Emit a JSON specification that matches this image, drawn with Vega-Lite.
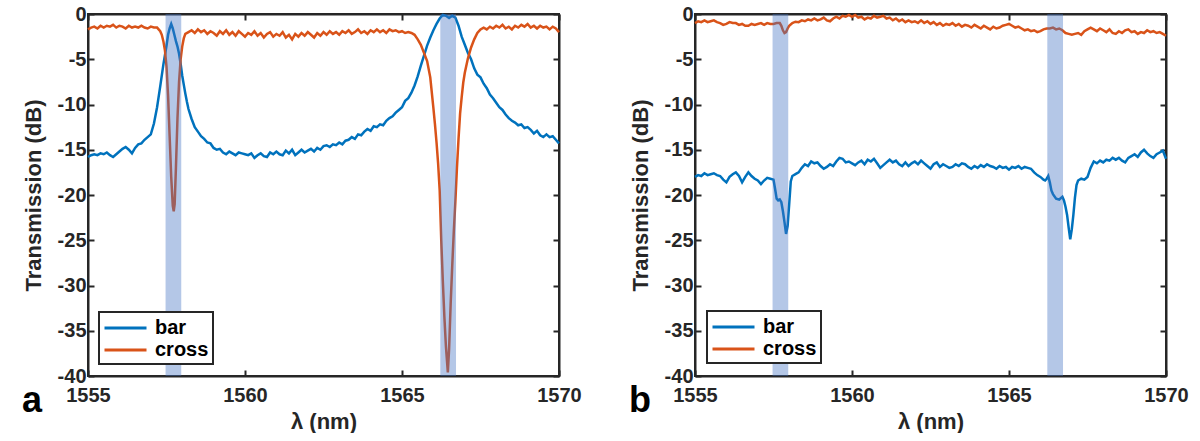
{
  "$schema": "https://vega.github.io/schema/vega-lite/v6.json",
  "background": "white",
  "padding": {"left": 21, "top": 3, "right": 0, "bottom": 0},
  "datasets": {
    "a": [
      {"series":"bar","lambda":1555.0,"T":-15.8},{"series":"bar","lambda":1555.1,"T":-15.6},{"series":"bar","lambda":1555.2,"T":-15.5},{"series":"bar","lambda":1555.3,"T":-15.6},{"series":"bar","lambda":1555.4,"T":-15.4},{"series":"bar","lambda":1555.5,"T":-15.5},{"series":"bar","lambda":1555.6,"T":-15.3},{"series":"bar","lambda":1555.7,"T":-15.6},{"series":"bar","lambda":1555.8,"T":-15.8},{"series":"bar","lambda":1555.9,"T":-15.5},
      {"series":"bar","lambda":1556.0,"T":-15.2},{"series":"bar","lambda":1556.1,"T":-14.9},{"series":"bar","lambda":1556.2,"T":-14.7},{"series":"bar","lambda":1556.3,"T":-15.0},{"series":"bar","lambda":1556.4,"T":-15.4},{"series":"bar","lambda":1556.5,"T":-14.8},{"series":"bar","lambda":1556.6,"T":-14.4},{"series":"bar","lambda":1556.7,"T":-14.3},{"series":"bar","lambda":1556.8,"T":-13.9},{"series":"bar","lambda":1556.9,"T":-13.6},
      {"series":"bar","lambda":1557.0,"T":-13.3},{"series":"bar","lambda":1557.1,"T":-12.1},{"series":"bar","lambda":1557.2,"T":-10.3},{"series":"bar","lambda":1557.3,"T":-8.0},{"series":"bar","lambda":1557.4,"T":-5.6},{"series":"bar","lambda":1557.5,"T":-3.5},{"series":"bar","lambda":1557.55,"T":-2.3},{"series":"bar","lambda":1557.6,"T":-1.6},{"series":"bar","lambda":1557.65,"T":-1.1},{"series":"bar","lambda":1557.7,"T":-1.6},
      {"series":"bar","lambda":1557.75,"T":-2.3},{"series":"bar","lambda":1557.8,"T":-3.0},{"series":"bar","lambda":1557.85,"T":-3.6},{"series":"bar","lambda":1557.9,"T":-4.4},{"series":"bar","lambda":1557.95,"T":-5.5},{"series":"bar","lambda":1558.0,"T":-6.8},{"series":"bar","lambda":1558.05,"T":-7.8},{"series":"bar","lambda":1558.1,"T":-8.8},{"series":"bar","lambda":1558.15,"T":-9.7},{"series":"bar","lambda":1558.2,"T":-10.5},
      {"series":"bar","lambda":1558.3,"T":-11.6},{"series":"bar","lambda":1558.4,"T":-12.5},{"series":"bar","lambda":1558.5,"T":-13.0},{"series":"bar","lambda":1558.6,"T":-13.5},{"series":"bar","lambda":1558.7,"T":-13.8},{"series":"bar","lambda":1558.8,"T":-14.2},{"series":"bar","lambda":1558.9,"T":-14.3},{"series":"bar","lambda":1559.0,"T":-14.8},{"series":"bar","lambda":1559.1,"T":-15.0},{"series":"bar","lambda":1559.2,"T":-14.9},
      {"series":"bar","lambda":1559.3,"T":-15.3},{"series":"bar","lambda":1559.4,"T":-15.5},{"series":"bar","lambda":1559.5,"T":-15.2},{"series":"bar","lambda":1559.6,"T":-15.4},{"series":"bar","lambda":1559.7,"T":-15.6},{"series":"bar","lambda":1559.8,"T":-15.3},{"series":"bar","lambda":1559.9,"T":-15.4},{"series":"bar","lambda":1560.0,"T":-15.5},{"series":"bar","lambda":1560.1,"T":-15.6},{"series":"bar","lambda":1560.2,"T":-15.4},
      {"series":"bar","lambda":1560.3,"T":-15.9},{"series":"bar","lambda":1560.4,"T":-15.6},{"series":"bar","lambda":1560.5,"T":-15.4},{"series":"bar","lambda":1560.6,"T":-15.7},{"series":"bar","lambda":1560.7,"T":-15.8},{"series":"bar","lambda":1560.8,"T":-15.3},{"series":"bar","lambda":1560.9,"T":-15.5},{"series":"bar","lambda":1561.0,"T":-15.2},{"series":"bar","lambda":1561.1,"T":-15.5},{"series":"bar","lambda":1561.2,"T":-15.6},
      {"series":"bar","lambda":1561.3,"T":-15.1},{"series":"bar","lambda":1561.4,"T":-15.4},{"series":"bar","lambda":1561.5,"T":-15.0},{"series":"bar","lambda":1561.6,"T":-15.6},{"series":"bar","lambda":1561.7,"T":-15.3},{"series":"bar","lambda":1561.8,"T":-15.0},{"series":"bar","lambda":1561.9,"T":-15.3},{"series":"bar","lambda":1562.0,"T":-15.1},{"series":"bar","lambda":1562.1,"T":-14.9},{"series":"bar","lambda":1562.2,"T":-15.2},
      {"series":"bar","lambda":1562.3,"T":-14.8},{"series":"bar","lambda":1562.4,"T":-15.0},{"series":"bar","lambda":1562.5,"T":-14.6},{"series":"bar","lambda":1562.6,"T":-14.5},{"series":"bar","lambda":1562.7,"T":-14.7},{"series":"bar","lambda":1562.8,"T":-14.4},{"series":"bar","lambda":1562.9,"T":-14.5},{"series":"bar","lambda":1563.0,"T":-14.2},{"series":"bar","lambda":1563.1,"T":-14.4},{"series":"bar","lambda":1563.2,"T":-14.0},
      {"series":"bar","lambda":1563.3,"T":-13.9},{"series":"bar","lambda":1563.4,"T":-13.6},{"series":"bar","lambda":1563.5,"T":-13.8},{"series":"bar","lambda":1563.6,"T":-13.3},{"series":"bar","lambda":1563.7,"T":-13.4},{"series":"bar","lambda":1563.8,"T":-13.0},{"series":"bar","lambda":1563.9,"T":-12.7},{"series":"bar","lambda":1564.0,"T":-12.9},{"series":"bar","lambda":1564.1,"T":-12.4},{"series":"bar","lambda":1564.2,"T":-12.5},
      {"series":"bar","lambda":1564.3,"T":-12.2},{"series":"bar","lambda":1564.4,"T":-12.3},{"series":"bar","lambda":1564.5,"T":-11.8},{"series":"bar","lambda":1564.6,"T":-11.5},{"series":"bar","lambda":1564.7,"T":-11.3},{"series":"bar","lambda":1564.8,"T":-10.9},{"series":"bar","lambda":1564.9,"T":-10.6},{"series":"bar","lambda":1565.0,"T":-10.3},{"series":"bar","lambda":1565.1,"T":-9.6},{"series":"bar","lambda":1565.2,"T":-9.3},
      {"series":"bar","lambda":1565.3,"T":-8.7},{"series":"bar","lambda":1565.4,"T":-7.9},{"series":"bar","lambda":1565.5,"T":-6.9},{"series":"bar","lambda":1565.6,"T":-5.7},{"series":"bar","lambda":1565.7,"T":-4.6},{"series":"bar","lambda":1565.8,"T":-3.5},{"series":"bar","lambda":1565.9,"T":-2.6},{"series":"bar","lambda":1566.0,"T":-1.8},{"series":"bar","lambda":1566.1,"T":-1.1},{"series":"bar","lambda":1566.2,"T":-0.5},
      {"series":"bar","lambda":1566.3,"T":-0.1},{"series":"bar","lambda":1566.4,"T":-0.2},{"series":"bar","lambda":1566.5,"T":-0.45},{"series":"bar","lambda":1566.6,"T":-0.2},{"series":"bar","lambda":1566.7,"T":-0.4},{"series":"bar","lambda":1566.8,"T":-1.3},{"series":"bar","lambda":1566.9,"T":-2.5},{"series":"bar","lambda":1567.0,"T":-3.4},{"series":"bar","lambda":1567.1,"T":-4.3},{"series":"bar","lambda":1567.2,"T":-5.0},
      {"series":"bar","lambda":1567.3,"T":-6.0},{"series":"bar","lambda":1567.4,"T":-6.7},{"series":"bar","lambda":1567.5,"T":-7.0},{"series":"bar","lambda":1567.6,"T":-7.7},{"series":"bar","lambda":1567.7,"T":-8.2},{"series":"bar","lambda":1567.8,"T":-8.9},{"series":"bar","lambda":1567.9,"T":-9.3},{"series":"bar","lambda":1568.0,"T":-9.8},{"series":"bar","lambda":1568.1,"T":-10.3},{"series":"bar","lambda":1568.2,"T":-10.6},
      {"series":"bar","lambda":1568.3,"T":-11.1},{"series":"bar","lambda":1568.4,"T":-11.5},{"series":"bar","lambda":1568.5,"T":-11.8},{"series":"bar","lambda":1568.6,"T":-12.0},{"series":"bar","lambda":1568.7,"T":-12.3},{"series":"bar","lambda":1568.8,"T":-12.2},{"series":"bar","lambda":1568.9,"T":-12.6},{"series":"bar","lambda":1569.0,"T":-12.5},{"series":"bar","lambda":1569.1,"T":-12.8},{"series":"bar","lambda":1569.2,"T":-13.2},
      {"series":"bar","lambda":1569.3,"T":-12.9},{"series":"bar","lambda":1569.4,"T":-13.4},{"series":"bar","lambda":1569.5,"T":-13.6},{"series":"bar","lambda":1569.6,"T":-13.3},{"series":"bar","lambda":1569.7,"T":-13.6},{"series":"bar","lambda":1569.8,"T":-13.5},{"series":"bar","lambda":1569.9,"T":-13.9},{"series":"bar","lambda":1570.0,"T":-14.3},
      {"series":"cross","lambda":1555.0,"T":-1.7},{"series":"cross","lambda":1555.1,"T":-1.5},{"series":"cross","lambda":1555.2,"T":-1.4},{"series":"cross","lambda":1555.3,"T":-1.6},{"series":"cross","lambda":1555.4,"T":-1.3},{"series":"cross","lambda":1555.5,"T":-1.5},{"series":"cross","lambda":1555.6,"T":-1.3},{"series":"cross","lambda":1555.7,"T":-1.4},{"series":"cross","lambda":1555.8,"T":-1.2},{"series":"cross","lambda":1555.9,"T":-1.5},
      {"series":"cross","lambda":1556.0,"T":-1.3},{"series":"cross","lambda":1556.1,"T":-1.4},{"series":"cross","lambda":1556.2,"T":-1.6},{"series":"cross","lambda":1556.3,"T":-1.3},{"series":"cross","lambda":1556.4,"T":-1.5},{"series":"cross","lambda":1556.5,"T":-1.4},{"series":"cross","lambda":1556.6,"T":-1.5},{"series":"cross","lambda":1556.7,"T":-1.3},{"series":"cross","lambda":1556.8,"T":-1.5},{"series":"cross","lambda":1556.9,"T":-1.6},
      {"series":"cross","lambda":1557.0,"T":-1.4},{"series":"cross","lambda":1557.1,"T":-1.5},{"series":"cross","lambda":1557.2,"T":-1.5},{"series":"cross","lambda":1557.3,"T":-1.9},{"series":"cross","lambda":1557.35,"T":-2.3},{"series":"cross","lambda":1557.4,"T":-3.0},{"series":"cross","lambda":1557.45,"T":-4.0},{"series":"cross","lambda":1557.5,"T":-5.8},{"series":"cross","lambda":1557.55,"T":-9.0},{"series":"cross","lambda":1557.6,"T":-13.5},
      {"series":"cross","lambda":1557.65,"T":-18.0},{"series":"cross","lambda":1557.7,"T":-21.2},{"series":"cross","lambda":1557.73,"T":-21.8},{"series":"cross","lambda":1557.76,"T":-21.0},{"series":"cross","lambda":1557.8,"T":-17.0},{"series":"cross","lambda":1557.85,"T":-11.5},{"series":"cross","lambda":1557.9,"T":-7.5},{"series":"cross","lambda":1557.95,"T":-5.0},{"series":"cross","lambda":1558.0,"T":-3.6},{"series":"cross","lambda":1558.05,"T":-2.7},
      {"series":"cross","lambda":1558.1,"T":-2.2},{"series":"cross","lambda":1558.2,"T":-2.0},{"series":"cross","lambda":1558.3,"T":-1.8},{"series":"cross","lambda":1558.4,"T":-2.1},{"series":"cross","lambda":1558.5,"T":-1.7},{"series":"cross","lambda":1558.6,"T":-2.0},{"series":"cross","lambda":1558.7,"T":-1.8},{"series":"cross","lambda":1558.8,"T":-2.2},{"series":"cross","lambda":1558.9,"T":-1.9},{"series":"cross","lambda":1559.0,"T":-2.1},
      {"series":"cross","lambda":1559.1,"T":-2.4},{"series":"cross","lambda":1559.2,"T":-1.9},{"series":"cross","lambda":1559.3,"T":-2.2},{"series":"cross","lambda":1559.4,"T":-1.8},{"series":"cross","lambda":1559.5,"T":-2.3},{"series":"cross","lambda":1559.6,"T":-2.0},{"series":"cross","lambda":1559.7,"T":-2.4},{"series":"cross","lambda":1559.8,"T":-1.9},{"series":"cross","lambda":1559.9,"T":-2.2},{"series":"cross","lambda":1560.0,"T":-2.5},
      {"series":"cross","lambda":1560.1,"T":-2.1},{"series":"cross","lambda":1560.2,"T":-2.3},{"series":"cross","lambda":1560.3,"T":-1.9},{"series":"cross","lambda":1560.4,"T":-2.4},{"series":"cross","lambda":1560.5,"T":-2.1},{"series":"cross","lambda":1560.6,"T":-2.6},{"series":"cross","lambda":1560.7,"T":-2.2},{"series":"cross","lambda":1560.8,"T":-2.0},{"series":"cross","lambda":1560.9,"T":-2.5},{"series":"cross","lambda":1561.0,"T":-2.2},
      {"series":"cross","lambda":1561.1,"T":-2.4},{"series":"cross","lambda":1561.2,"T":-2.0},{"series":"cross","lambda":1561.3,"T":-2.6},{"series":"cross","lambda":1561.4,"T":-2.3},{"series":"cross","lambda":1561.5,"T":-2.8},{"series":"cross","lambda":1561.6,"T":-2.2},{"series":"cross","lambda":1561.7,"T":-2.5},{"series":"cross","lambda":1561.8,"T":-2.1},{"series":"cross","lambda":1561.9,"T":-2.4},{"series":"cross","lambda":1562.0,"T":-2.0},
      {"series":"cross","lambda":1562.1,"T":-2.3},{"series":"cross","lambda":1562.2,"T":-2.6},{"series":"cross","lambda":1562.3,"T":-2.1},{"series":"cross","lambda":1562.4,"T":-2.4},{"series":"cross","lambda":1562.5,"T":-2.0},{"series":"cross","lambda":1562.6,"T":-2.3},{"series":"cross","lambda":1562.7,"T":-1.9},{"series":"cross","lambda":1562.8,"T":-2.2},{"series":"cross","lambda":1562.9,"T":-2.0},{"series":"cross","lambda":1563.0,"T":-2.3},
      {"series":"cross","lambda":1563.1,"T":-1.9},{"series":"cross","lambda":1563.2,"T":-2.1},{"series":"cross","lambda":1563.3,"T":-1.8},{"series":"cross","lambda":1563.4,"T":-2.2},{"series":"cross","lambda":1563.5,"T":-2.0},{"series":"cross","lambda":1563.6,"T":-1.7},{"series":"cross","lambda":1563.7,"T":-2.1},{"series":"cross","lambda":1563.8,"T":-1.9},{"series":"cross","lambda":1563.9,"T":-2.2},{"series":"cross","lambda":1564.0,"T":-1.8},
      {"series":"cross","lambda":1564.1,"T":-2.0},{"series":"cross","lambda":1564.2,"T":-1.7},{"series":"cross","lambda":1564.3,"T":-2.0},{"series":"cross","lambda":1564.4,"T":-1.8},{"series":"cross","lambda":1564.5,"T":-2.1},{"series":"cross","lambda":1564.6,"T":-1.7},{"series":"cross","lambda":1564.7,"T":-1.9},{"series":"cross","lambda":1564.8,"T":-1.8},{"series":"cross","lambda":1564.9,"T":-2.0},{"series":"cross","lambda":1565.0,"T":-1.9},
      {"series":"cross","lambda":1565.1,"T":-2.1},{"series":"cross","lambda":1565.2,"T":-2.0},{"series":"cross","lambda":1565.3,"T":-2.1},{"series":"cross","lambda":1565.4,"T":-2.3},{"series":"cross","lambda":1565.5,"T":-2.8},{"series":"cross","lambda":1565.6,"T":-3.4},{"series":"cross","lambda":1565.7,"T":-4.3},{"series":"cross","lambda":1565.8,"T":-5.2},{"series":"cross","lambda":1565.9,"T":-7.0},{"series":"cross","lambda":1566.0,"T":-10.4},
      {"series":"cross","lambda":1566.05,"T":-12.2},{"series":"cross","lambda":1566.1,"T":-14.2},{"series":"cross","lambda":1566.15,"T":-16.5},{"series":"cross","lambda":1566.2,"T":-19.5},{"series":"cross","lambda":1566.25,"T":-25.0},{"series":"cross","lambda":1566.3,"T":-29.5},{"series":"cross","lambda":1566.35,"T":-33.5},{"series":"cross","lambda":1566.4,"T":-36.8},{"series":"cross","lambda":1566.46,"T":-39.6},{"series":"cross","lambda":1566.5,"T":-37.0},
      {"series":"cross","lambda":1566.55,"T":-32.0},{"series":"cross","lambda":1566.6,"T":-27.8},{"series":"cross","lambda":1566.65,"T":-24.0},{"series":"cross","lambda":1566.7,"T":-20.7},{"series":"cross","lambda":1566.75,"T":-17.0},{"series":"cross","lambda":1566.8,"T":-13.8},{"series":"cross","lambda":1566.85,"T":-11.0},{"series":"cross","lambda":1566.9,"T":-9.2},{"series":"cross","lambda":1566.95,"T":-7.6},{"series":"cross","lambda":1567.0,"T":-6.5},
      {"series":"cross","lambda":1567.1,"T":-4.9},{"series":"cross","lambda":1567.2,"T":-3.7},{"series":"cross","lambda":1567.3,"T":-2.8},{"series":"cross","lambda":1567.4,"T":-2.1},{"series":"cross","lambda":1567.5,"T":-1.7},{"series":"cross","lambda":1567.6,"T":-1.5},{"series":"cross","lambda":1567.7,"T":-1.7},{"series":"cross","lambda":1567.8,"T":-1.4},{"series":"cross","lambda":1567.9,"T":-1.6},{"series":"cross","lambda":1568.0,"T":-1.3},
      {"series":"cross","lambda":1568.1,"T":-1.5},{"series":"cross","lambda":1568.2,"T":-1.2},{"series":"cross","lambda":1568.3,"T":-1.6},{"series":"cross","lambda":1568.4,"T":-1.4},{"series":"cross","lambda":1568.5,"T":-1.7},{"series":"cross","lambda":1568.6,"T":-1.3},{"series":"cross","lambda":1568.7,"T":-1.5},{"series":"cross","lambda":1568.8,"T":-1.2},{"series":"cross","lambda":1568.9,"T":-1.4},{"series":"cross","lambda":1569.0,"T":-1.1},
      {"series":"cross","lambda":1569.1,"T":-1.5},{"series":"cross","lambda":1569.2,"T":-1.3},{"series":"cross","lambda":1569.3,"T":-1.6},{"series":"cross","lambda":1569.4,"T":-1.3},{"series":"cross","lambda":1569.5,"T":-1.5},{"series":"cross","lambda":1569.6,"T":-1.4},{"series":"cross","lambda":1569.7,"T":-1.7},{"series":"cross","lambda":1569.8,"T":-1.4},{"series":"cross","lambda":1569.9,"T":-1.6},{"series":"cross","lambda":1570.0,"T":-2.0}
    ],
    "b": [
      {"series":"bar","lambda":1555.0,"T":-18.0},{"series":"bar","lambda":1555.1,"T":-17.8},{"series":"bar","lambda":1555.2,"T":-17.9},{"series":"bar","lambda":1555.3,"T":-17.6},{"series":"bar","lambda":1555.4,"T":-17.8},{"series":"bar","lambda":1555.5,"T":-17.7},{"series":"bar","lambda":1555.6,"T":-17.6},{"series":"bar","lambda":1555.7,"T":-17.8},{"series":"bar","lambda":1555.8,"T":-17.9},{"series":"bar","lambda":1555.9,"T":-18.3},
      {"series":"bar","lambda":1556.0,"T":-18.6},{"series":"bar","lambda":1556.1,"T":-18.0},{"series":"bar","lambda":1556.2,"T":-17.7},{"series":"bar","lambda":1556.3,"T":-17.5},{"series":"bar","lambda":1556.4,"T":-17.9},{"series":"bar","lambda":1556.5,"T":-18.6},{"series":"bar","lambda":1556.6,"T":-18.0},{"series":"bar","lambda":1556.7,"T":-17.5},{"series":"bar","lambda":1556.8,"T":-17.9},{"series":"bar","lambda":1556.9,"T":-18.2},
      {"series":"bar","lambda":1557.0,"T":-18.4},{"series":"bar","lambda":1557.1,"T":-18.8},{"series":"bar","lambda":1557.2,"T":-18.4},{"series":"bar","lambda":1557.3,"T":-18.1},{"series":"bar","lambda":1557.4,"T":-18.2},{"series":"bar","lambda":1557.5,"T":-18.3},{"series":"bar","lambda":1557.55,"T":-19.3},{"series":"bar","lambda":1557.6,"T":-20.4},{"series":"bar","lambda":1557.65,"T":-20.6},{"series":"bar","lambda":1557.7,"T":-20.5},
      {"series":"bar","lambda":1557.75,"T":-20.8},{"series":"bar","lambda":1557.8,"T":-21.8},{"series":"bar","lambda":1557.85,"T":-23.0},{"series":"bar","lambda":1557.9,"T":-24.3},{"series":"bar","lambda":1557.95,"T":-23.4},{"series":"bar","lambda":1558.0,"T":-21.0},{"series":"bar","lambda":1558.05,"T":-18.5},{"series":"bar","lambda":1558.1,"T":-17.9},{"series":"bar","lambda":1558.2,"T":-17.7},{"series":"bar","lambda":1558.3,"T":-17.5},
      {"series":"bar","lambda":1558.4,"T":-17.0},{"series":"bar","lambda":1558.5,"T":-16.6},{"series":"bar","lambda":1558.6,"T":-16.8},{"series":"bar","lambda":1558.7,"T":-16.3},{"series":"bar","lambda":1558.8,"T":-16.5},{"series":"bar","lambda":1558.9,"T":-16.4},{"series":"bar","lambda":1559.0,"T":-16.8},{"series":"bar","lambda":1559.1,"T":-17.1},{"series":"bar","lambda":1559.2,"T":-16.9},{"series":"bar","lambda":1559.3,"T":-16.6},
      {"series":"bar","lambda":1559.4,"T":-16.8},{"series":"bar","lambda":1559.5,"T":-16.3},{"series":"bar","lambda":1559.6,"T":-15.9},{"series":"bar","lambda":1559.7,"T":-16.0},{"series":"bar","lambda":1559.8,"T":-16.4},{"series":"bar","lambda":1559.9,"T":-16.3},{"series":"bar","lambda":1560.0,"T":-16.5},{"series":"bar","lambda":1560.1,"T":-16.7},{"series":"bar","lambda":1560.2,"T":-16.4},{"series":"bar","lambda":1560.3,"T":-16.2},
      {"series":"bar","lambda":1560.4,"T":-16.6},{"series":"bar","lambda":1560.5,"T":-16.1},{"series":"bar","lambda":1560.6,"T":-16.3},{"series":"bar","lambda":1560.7,"T":-16.0},{"series":"bar","lambda":1560.8,"T":-16.5},{"series":"bar","lambda":1560.9,"T":-17.0},{"series":"bar","lambda":1561.0,"T":-16.7},{"series":"bar","lambda":1561.1,"T":-16.4},{"series":"bar","lambda":1561.2,"T":-16.1},{"series":"bar","lambda":1561.3,"T":-16.4},
      {"series":"bar","lambda":1561.4,"T":-16.2},{"series":"bar","lambda":1561.5,"T":-16.6},{"series":"bar","lambda":1561.6,"T":-16.8},{"series":"bar","lambda":1561.7,"T":-16.4},{"series":"bar","lambda":1561.8,"T":-16.8},{"series":"bar","lambda":1561.9,"T":-16.5},{"series":"bar","lambda":1562.0,"T":-16.3},{"series":"bar","lambda":1562.1,"T":-16.6},{"series":"bar","lambda":1562.2,"T":-16.2},{"series":"bar","lambda":1562.3,"T":-16.5},
      {"series":"bar","lambda":1562.4,"T":-16.8},{"series":"bar","lambda":1562.5,"T":-17.1},{"series":"bar","lambda":1562.6,"T":-16.6},{"series":"bar","lambda":1562.7,"T":-16.4},{"series":"bar","lambda":1562.8,"T":-16.9},{"series":"bar","lambda":1562.9,"T":-16.6},{"series":"bar","lambda":1563.0,"T":-16.8},{"series":"bar","lambda":1563.1,"T":-17.0},{"series":"bar","lambda":1563.2,"T":-16.9},{"series":"bar","lambda":1563.3,"T":-16.6},
      {"series":"bar","lambda":1563.4,"T":-16.8},{"series":"bar","lambda":1563.5,"T":-16.5},{"series":"bar","lambda":1563.6,"T":-16.6},{"series":"bar","lambda":1563.7,"T":-16.9},{"series":"bar","lambda":1563.8,"T":-17.1},{"series":"bar","lambda":1563.9,"T":-16.8},{"series":"bar","lambda":1564.0,"T":-17.0},{"series":"bar","lambda":1564.1,"T":-16.7},{"series":"bar","lambda":1564.2,"T":-16.9},{"series":"bar","lambda":1564.3,"T":-16.6},
      {"series":"bar","lambda":1564.4,"T":-16.8},{"series":"bar","lambda":1564.5,"T":-16.9},{"series":"bar","lambda":1564.6,"T":-17.1},{"series":"bar","lambda":1564.7,"T":-16.8},{"series":"bar","lambda":1564.8,"T":-17.0},{"series":"bar","lambda":1564.9,"T":-16.9},{"series":"bar","lambda":1565.0,"T":-17.2},{"series":"bar","lambda":1565.1,"T":-16.9},{"series":"bar","lambda":1565.2,"T":-17.0},{"series":"bar","lambda":1565.3,"T":-16.8},
      {"series":"bar","lambda":1565.4,"T":-17.1},{"series":"bar","lambda":1565.5,"T":-16.9},{"series":"bar","lambda":1565.6,"T":-17.0},{"series":"bar","lambda":1565.7,"T":-17.1},{"series":"bar","lambda":1565.8,"T":-17.5},{"series":"bar","lambda":1565.9,"T":-17.8},{"series":"bar","lambda":1566.0,"T":-18.0},{"series":"bar","lambda":1566.1,"T":-18.3},{"series":"bar","lambda":1566.15,"T":-18.4},{"series":"bar","lambda":1566.2,"T":-18.2},
      {"series":"bar","lambda":1566.25,"T":-17.9},{"series":"bar","lambda":1566.3,"T":-18.6},{"series":"bar","lambda":1566.35,"T":-19.5},{"series":"bar","lambda":1566.4,"T":-19.9},{"series":"bar","lambda":1566.5,"T":-20.4},{"series":"bar","lambda":1566.6,"T":-20.5},{"series":"bar","lambda":1566.7,"T":-20.2},{"series":"bar","lambda":1566.75,"T":-20.6},{"series":"bar","lambda":1566.8,"T":-21.3},{"series":"bar","lambda":1566.85,"T":-22.2},
      {"series":"bar","lambda":1566.9,"T":-23.6},{"series":"bar","lambda":1566.95,"T":-24.9},{"series":"bar","lambda":1567.0,"T":-23.8},{"series":"bar","lambda":1567.05,"T":-22.2},{"series":"bar","lambda":1567.1,"T":-20.3},{"series":"bar","lambda":1567.15,"T":-18.9},{"series":"bar","lambda":1567.2,"T":-18.4},{"series":"bar","lambda":1567.3,"T":-18.2},{"series":"bar","lambda":1567.4,"T":-18.3},{"series":"bar","lambda":1567.5,"T":-18.0},
      {"series":"bar","lambda":1567.55,"T":-17.5},{"series":"bar","lambda":1567.6,"T":-17.0},{"series":"bar","lambda":1567.7,"T":-16.3},{"series":"bar","lambda":1567.8,"T":-16.5},{"series":"bar","lambda":1567.9,"T":-16.2},{"series":"bar","lambda":1568.0,"T":-16.4},{"series":"bar","lambda":1568.1,"T":-16.1},{"series":"bar","lambda":1568.2,"T":-16.2},{"series":"bar","lambda":1568.3,"T":-15.9},{"series":"bar","lambda":1568.4,"T":-16.1},
      {"series":"bar","lambda":1568.5,"T":-15.9},{"series":"bar","lambda":1568.6,"T":-16.2},{"series":"bar","lambda":1568.7,"T":-16.4},{"series":"bar","lambda":1568.8,"T":-15.9},{"series":"bar","lambda":1568.9,"T":-15.7},{"series":"bar","lambda":1569.0,"T":-15.5},{"series":"bar","lambda":1569.1,"T":-15.8},{"series":"bar","lambda":1569.2,"T":-15.3},{"series":"bar","lambda":1569.3,"T":-15.0},{"series":"bar","lambda":1569.4,"T":-15.4},
      {"series":"bar","lambda":1569.5,"T":-15.7},{"series":"bar","lambda":1569.6,"T":-15.9},{"series":"bar","lambda":1569.7,"T":-15.5},{"series":"bar","lambda":1569.8,"T":-15.3},{"series":"bar","lambda":1569.9,"T":-15.1},{"series":"bar","lambda":1570.0,"T":-16.0},
      {"series":"cross","lambda":1555.0,"T":-1.0},{"series":"cross","lambda":1555.1,"T":-0.8},{"series":"cross","lambda":1555.2,"T":-0.9},{"series":"cross","lambda":1555.3,"T":-0.7},{"series":"cross","lambda":1555.4,"T":-0.9},{"series":"cross","lambda":1555.5,"T":-0.8},{"series":"cross","lambda":1555.6,"T":-0.7},{"series":"cross","lambda":1555.7,"T":-0.9},{"series":"cross","lambda":1555.8,"T":-1.0},{"series":"cross","lambda":1555.9,"T":-1.2},
      {"series":"cross","lambda":1556.0,"T":-1.1},{"series":"cross","lambda":1556.1,"T":-0.9},{"series":"cross","lambda":1556.2,"T":-1.0},{"series":"cross","lambda":1556.3,"T":-1.0},{"series":"cross","lambda":1556.4,"T":-1.2},{"series":"cross","lambda":1556.5,"T":-1.1},{"series":"cross","lambda":1556.6,"T":-1.3},{"series":"cross","lambda":1556.7,"T":-1.3},{"series":"cross","lambda":1556.8,"T":-1.1},{"series":"cross","lambda":1556.9,"T":-1.2},
      {"series":"cross","lambda":1557.0,"T":-1.1},{"series":"cross","lambda":1557.1,"T":-1.0},{"series":"cross","lambda":1557.2,"T":-1.2},{"series":"cross","lambda":1557.3,"T":-1.0},{"series":"cross","lambda":1557.4,"T":-1.1},{"series":"cross","lambda":1557.5,"T":-1.1},{"series":"cross","lambda":1557.6,"T":-1.0},{"series":"cross","lambda":1557.7,"T":-1.0},{"series":"cross","lambda":1557.75,"T":-1.3},{"series":"cross","lambda":1557.8,"T":-1.8},
      {"series":"cross","lambda":1557.85,"T":-2.1},{"series":"cross","lambda":1557.9,"T":-2.0},{"series":"cross","lambda":1557.95,"T":-1.6},{"series":"cross","lambda":1558.0,"T":-1.3},{"series":"cross","lambda":1558.1,"T":-1.0},{"series":"cross","lambda":1558.2,"T":-0.85},{"series":"cross","lambda":1558.3,"T":-0.9},{"series":"cross","lambda":1558.4,"T":-0.7},{"series":"cross","lambda":1558.5,"T":-0.8},{"series":"cross","lambda":1558.6,"T":-0.6},
      {"series":"cross","lambda":1558.7,"T":-0.7},{"series":"cross","lambda":1558.8,"T":-0.5},{"series":"cross","lambda":1558.9,"T":-0.7},{"series":"cross","lambda":1559.0,"T":-0.6},{"series":"cross","lambda":1559.1,"T":-0.4},{"series":"cross","lambda":1559.2,"T":-0.7},{"series":"cross","lambda":1559.3,"T":-0.8},{"series":"cross","lambda":1559.4,"T":-0.5},{"series":"cross","lambda":1559.5,"T":-0.3},{"series":"cross","lambda":1559.6,"T":-0.5},
      {"series":"cross","lambda":1559.7,"T":-0.2},{"series":"cross","lambda":1559.8,"T":-0.3},{"series":"cross","lambda":1559.9,"T":-0.1},{"series":"cross","lambda":1560.0,"T":-0.3},{"series":"cross","lambda":1560.1,"T":-0.1},{"series":"cross","lambda":1560.2,"T":-0.4},{"series":"cross","lambda":1560.3,"T":-0.3},{"series":"cross","lambda":1560.4,"T":-0.6},{"series":"cross","lambda":1560.5,"T":-0.4},{"series":"cross","lambda":1560.6,"T":-0.5},
      {"series":"cross","lambda":1560.7,"T":-0.2},{"series":"cross","lambda":1560.8,"T":-0.4},{"series":"cross","lambda":1560.9,"T":-0.3},{"series":"cross","lambda":1561.0,"T":-0.2},{"series":"cross","lambda":1561.1,"T":-0.5},{"series":"cross","lambda":1561.2,"T":-0.4},{"series":"cross","lambda":1561.3,"T":-0.7},{"series":"cross","lambda":1561.4,"T":-0.5},{"series":"cross","lambda":1561.5,"T":-0.8},{"series":"cross","lambda":1561.6,"T":-0.6},
      {"series":"cross","lambda":1561.7,"T":-0.9},{"series":"cross","lambda":1561.8,"T":-0.7},{"series":"cross","lambda":1561.9,"T":-0.9},{"series":"cross","lambda":1562.0,"T":-0.8},{"series":"cross","lambda":1562.1,"T":-1.0},{"series":"cross","lambda":1562.2,"T":-0.7},{"series":"cross","lambda":1562.3,"T":-1.0},{"series":"cross","lambda":1562.4,"T":-0.8},{"series":"cross","lambda":1562.5,"T":-1.1},{"series":"cross","lambda":1562.6,"T":-0.9},
      {"series":"cross","lambda":1562.7,"T":-1.2},{"series":"cross","lambda":1562.8,"T":-1.0},{"series":"cross","lambda":1562.9,"T":-1.3},{"series":"cross","lambda":1563.0,"T":-1.1},{"series":"cross","lambda":1563.1,"T":-1.2},{"series":"cross","lambda":1563.2,"T":-1.0},{"series":"cross","lambda":1563.3,"T":-1.3},{"series":"cross","lambda":1563.4,"T":-1.1},{"series":"cross","lambda":1563.5,"T":-1.4},{"series":"cross","lambda":1563.6,"T":-1.2},
      {"series":"cross","lambda":1563.7,"T":-1.3},{"series":"cross","lambda":1563.8,"T":-1.5},{"series":"cross","lambda":1563.9,"T":-1.2},{"series":"cross","lambda":1564.0,"T":-1.4},{"series":"cross","lambda":1564.1,"T":-1.6},{"series":"cross","lambda":1564.2,"T":-1.3},{"series":"cross","lambda":1564.3,"T":-1.5},{"series":"cross","lambda":1564.4,"T":-1.7},{"series":"cross","lambda":1564.5,"T":-1.4},{"series":"cross","lambda":1564.6,"T":-1.6},
      {"series":"cross","lambda":1564.7,"T":-1.5},{"series":"cross","lambda":1564.8,"T":-1.3},{"series":"cross","lambda":1564.9,"T":-1.2},{"series":"cross","lambda":1565.0,"T":-1.1},{"series":"cross","lambda":1565.1,"T":-1.3},{"series":"cross","lambda":1565.2,"T":-1.5},{"series":"cross","lambda":1565.3,"T":-1.4},{"series":"cross","lambda":1565.4,"T":-1.6},{"series":"cross","lambda":1565.5,"T":-1.8},{"series":"cross","lambda":1565.6,"T":-1.7},
      {"series":"cross","lambda":1565.7,"T":-1.9},{"series":"cross","lambda":1565.8,"T":-1.8},{"series":"cross","lambda":1565.9,"T":-2.0},{"series":"cross","lambda":1566.0,"T":-1.9},{"series":"cross","lambda":1566.1,"T":-1.7},{"series":"cross","lambda":1566.2,"T":-1.6},{"series":"cross","lambda":1566.3,"T":-1.6},{"series":"cross","lambda":1566.4,"T":-1.5},{"series":"cross","lambda":1566.5,"T":-1.7},{"series":"cross","lambda":1566.6,"T":-1.6},
      {"series":"cross","lambda":1566.7,"T":-1.8},{"series":"cross","lambda":1566.8,"T":-2.1},{"series":"cross","lambda":1566.9,"T":-2.2},{"series":"cross","lambda":1567.0,"T":-2.3},{"series":"cross","lambda":1567.1,"T":-2.2},{"series":"cross","lambda":1567.2,"T":-2.1},{"series":"cross","lambda":1567.3,"T":-2.3},{"series":"cross","lambda":1567.4,"T":-1.9},{"series":"cross","lambda":1567.5,"T":-1.7},{"series":"cross","lambda":1567.6,"T":-1.5},
      {"series":"cross","lambda":1567.7,"T":-1.7},{"series":"cross","lambda":1567.8,"T":-1.9},{"series":"cross","lambda":1567.9,"T":-1.6},{"series":"cross","lambda":1568.0,"T":-1.8},{"series":"cross","lambda":1568.1,"T":-2.0},{"series":"cross","lambda":1568.2,"T":-1.7},{"series":"cross","lambda":1568.3,"T":-2.1},{"series":"cross","lambda":1568.4,"T":-2.2},{"series":"cross","lambda":1568.5,"T":-1.9},{"series":"cross","lambda":1568.6,"T":-2.1},
      {"series":"cross","lambda":1568.7,"T":-1.8},{"series":"cross","lambda":1568.8,"T":-1.7},{"series":"cross","lambda":1568.9,"T":-2.0},{"series":"cross","lambda":1569.0,"T":-1.9},{"series":"cross","lambda":1569.1,"T":-2.2},{"series":"cross","lambda":1569.2,"T":-2.0},{"series":"cross","lambda":1569.3,"T":-2.1},{"series":"cross","lambda":1569.4,"T":-1.8},{"series":"cross","lambda":1569.5,"T":-2.0},{"series":"cross","lambda":1569.6,"T":-1.9},
      {"series":"cross","lambda":1569.7,"T":-2.1},{"series":"cross","lambda":1569.8,"T":-2.0},{"series":"cross","lambda":1569.9,"T":-2.2},{"series":"cross","lambda":1570.0,"T":-2.4}
    ],
    "bands": [
      {"start":1557.47,"end":1557.97},
      {"start":1566.22,"end":1566.72}
    ]
  },
  "hconcat": [
    {
      "width": 471,
      "height": 362,
      "title": {"text": "a", "orient": "bottom", "anchor": "start", "frame": "bounds", "fontSize": 36, "fontWeight": "bold", "font": "Liberation Sans", "color": "#000000", "baseline": "alphabetic", "offset": 0, "dy": -20, "dx": 0},
      "layer": [
        {
          "data": {"name": "a"},
          "mark": {"type": "line", "strokeWidth": 2.5},
          "encoding": {
            "x": {"field": "lambda", "type": "quantitative", "scale": {"domain": [1555, 1570], "nice": false, "zero": false}, "axis": {"orient": "bottom", "values": [1555, 1560, 1565, 1570], "title": "λ (nm)"}},
            "y": {"field": "T", "type": "quantitative", "scale": {"domain": [-40, 0], "nice": false, "zero": false}, "axis": {"orient": "left", "values": [-40, -35, -30, -25, -20, -15, -10, -5, 0], "title": "Transmission (dB)"}},
            "color": {"field": "series", "type": "nominal", "scale": {"domain": ["bar", "cross"], "range": ["#0072BD", "#D95319"]}, "legend": {"orient": "none", "legendX": 11, "legendY": 298}}
          }
        },
        {
          "data": {"name": "bands"},
          "mark": {"type": "rect", "color": "#4372C4", "opacity": 0.4},
          "encoding": {
            "x": {"field": "start", "type": "quantitative", "axis": {"orient": "top", "values": [1555, 1560, 1565, 1570], "labels": false, "title": null}},
            "x2": {"field": "end"},
            "y": {"datum": 0, "type": "quantitative", "axis": {"orient": "right", "values": [-40, -35, -30, -25, -20, -15, -10, -5, 0], "labels": false, "title": null}},
            "y2": {"datum": -40}
          }
        }
      ],
      "resolve": {"axis": {"x": "independent", "y": "independent"}}
    },
    {
      "width": 471,
      "height": 362,
      "title": {"text": "b", "orient": "bottom", "anchor": "start", "frame": "bounds", "fontSize": 36, "fontWeight": "bold", "font": "Liberation Sans", "color": "#000000", "baseline": "alphabetic", "offset": 0, "dy": -20, "dx": 0},
      "layer": [
        {
          "data": {"name": "b"},
          "mark": {"type": "line", "strokeWidth": 2.5},
          "encoding": {
            "x": {"field": "lambda", "type": "quantitative", "scale": {"domain": [1555, 1570], "nice": false, "zero": false}, "axis": {"orient": "bottom", "values": [1555, 1560, 1565, 1570], "title": "λ (nm)"}},
            "y": {"field": "T", "type": "quantitative", "scale": {"domain": [-40, 0], "nice": false, "zero": false}, "axis": {"orient": "left", "values": [-40, -35, -30, -25, -20, -15, -10, -5, 0], "title": "Transmission (dB)"}},
            "color": {"field": "series", "type": "nominal", "scale": {"domain": ["bar", "cross"], "range": ["#0072BD", "#D95319"]}, "legend": {"orient": "none", "legendX": 12, "legendY": 297}}
          }
        },
        {
          "data": {"name": "bands"},
          "mark": {"type": "rect", "color": "#4372C4", "opacity": 0.4},
          "encoding": {
            "x": {"field": "start", "type": "quantitative", "axis": {"orient": "top", "values": [1555, 1560, 1565, 1570], "labels": false, "title": null}},
            "x2": {"field": "end"},
            "y": {"datum": 0, "type": "quantitative", "axis": {"orient": "right", "values": [-40, -35, -30, -25, -20, -15, -10, -5, 0], "labels": false, "title": null}},
            "y2": {"datum": -40}
          }
        }
      ],
      "resolve": {"axis": {"x": "independent", "y": "independent"}}
    }
  ],
  "spacing": 136,
  "bounds": "flush",
  "resolve": {"scale": {"color": "independent"}, "legend": {"color": "independent"}},
  "config": {
    "view": {"stroke": "#262626", "strokeWidth": 2},
    "axis": {
      "grid": false,
      "domainColor": "#262626", "domainWidth": 2,
      "tickColor": "#262626", "tickWidth": 2, "tickSize": -6,
      "labelFont": "Liberation Sans", "labelFontSize": 20, "labelFontWeight": "bold", "labelColor": "#262626",
      "labelFlush": false, "labelOverlap": false, "labelPadding": 8,
      "labelExpr": "'' + datum.value",
      "titleFont": "Liberation Sans", "titleFontSize": 22, "titleFontWeight": "bold", "titleColor": "#262626"
    },
    "axisY": {"titlePadding": 12},
    "axisX": {"labelPadding": 15, "titlePadding": 6},
    "legend": {
      "title": null,
      "symbolType": "M-1,0H3",
      "symbolSize": 441,
      "symbolStrokeWidth": 3,
      "labelFont": "Liberation Sans", "labelFontSize": 20, "labelFontWeight": "bold", "labelColor": "#000000",
      "labelOffset": 28,
      "strokeColor": "#262626",
      "strokeWidth": 2,
      "fillColor": "white",
      "padding": 4,
      "rowPadding": 0
    }
  }
}
